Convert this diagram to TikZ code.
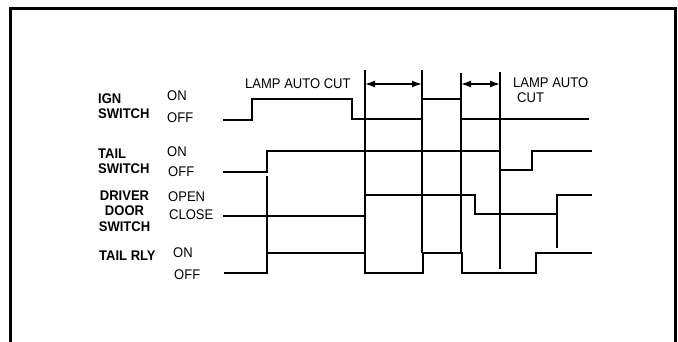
\documentclass[tikz,border=0pt]{standalone}
\usepackage{fontspec}
\setmainfont{Liberation Sans}[FakeStretch=0.93]
\usetikzlibrary{arrows.meta}
\begin{document}
\begin{tikzpicture}[x=1pt,y=-1pt,
  lbl/.style={anchor=base west,inner sep=0pt,font=\fontsize{14}{15}\selectfont\bfseries},
  st/.style={anchor=base west,inner sep=0pt,font=\fontsize{14}{15}\selectfont},
  sig/.style={line width=1.7pt,line join=miter},
  vline/.style={line width=1.7pt},
  dim/.style={line width=1.4pt,{Latex[length=10pt,width=7pt]}-{Latex[length=10pt,width=7pt]}}]
\useasboundingbox (0,0) rectangle (678,342);
% frame
\draw[line width=3pt] (10,360) -- (10,9) -- (675,9) -- (675,360);
% labels
\node[lbl] (ign1) at (98,104) {IGN};
\node[lbl] (ign2) at (98,119) {SWITCH};
\node[st] (ignon) at (167,101) {ON};
\node[st] (ignoff) at (167,123) {OFF};
\node[lbl] (tail1) at (98,159) {TAIL};
\node[lbl] (tail2) at (98,174) {SWITCH};
\node[st] (tailon) at (167,157) {ON};
\node[st] (tailoff) at (168,177) {OFF};
\node[lbl,anchor=north,align=center,font=\fontsize{14}{15.5}\selectfont\bfseries] (door) at (124.5,190.5) {DRIVER\\DOOR\\SWITCH};
\node[st] (dooropen) at (168,202) {OPEN};
\node[st] (doorclose) at (169,220) {CLOSE};
\node[lbl] (rly) at (99,260) {TAIL RLY};
\node[st] (rlyon) at (173,258) {ON};
\node[st] (rlyoff) at (174,279) {OFF};
\node[st] (lac1) at (245,89) {LAMP AUTO CUT};
\node[st] (lac2) at (513,88) {LAMP AUTO};
\node[st] (lac3) at (517,103) {CUT};
% vertical reference lines
\coordinate (v1t) at (365,70); \coordinate (v1b) at (365,253);
\coordinate (v2t) at (422,70); \coordinate (v2b) at (422,253);
\coordinate (v3t) at (461,73); \coordinate (v3b) at (461,253);
\coordinate (v4t) at (500,72); \coordinate (v4b) at (500,269);
\coordinate (v0t) at (267,176); \coordinate (v0b) at (267,253);
\coordinate (v5t) at (557,195); \coordinate (v5b) at (557,248);
\draw[vline] (v1t) -- (v1b);
\draw[vline] (v2t) -- (v2b);
\draw[vline] (v3t) -- (v3b);
\draw[vline] (v4t) -- (v4b);
\draw[vline] (v0t) -- (v0b);
\draw[vline] (v5t) -- (v5b);
% dimension arrows
\coordinate (a1) at (365,84); \coordinate (a2) at (422,84);
\coordinate (a3) at (461,84); \coordinate (a4) at (500,84);
\draw[dim] (a1) -- (a2);
\draw[dim] (a3) -- (a4);
% signals
\draw[sig] (223,120) -- (252,120) -- (252,99) -- (352,99) -- (352,119) -- (422,119) -- (422,99) -- (461,99) -- (461,119) -- (589,119);
\draw[sig] (223,172) -- (267,172) -- (267,151) -- (500,151) -- (500,170) -- (532,170) -- (532,151) -- (592,151);
\draw[sig] (223,216) -- (365,216) -- (365,195) -- (475,195) -- (475,214) -- (557,214) -- (557,195) -- (592,195);
\draw[sig] (224,273) -- (267,273) -- (267,253) -- (365,253) -- (365,273) -- (423,273) -- (423,253) -- (462,253) -- (462,273) -- (536,273) -- (536,253) -- (592,253);
\end{tikzpicture}
\end{document}
